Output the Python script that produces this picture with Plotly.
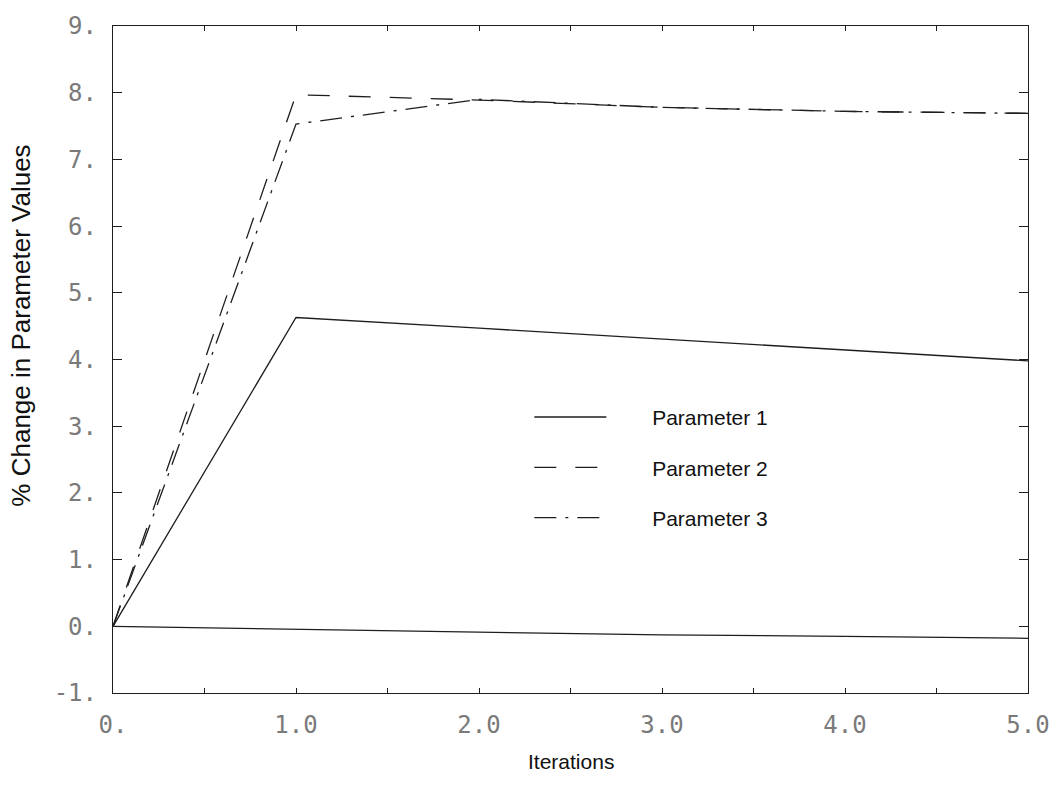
import plotly.graph_objects as go

# Iteration number on the x axis
iterations = [0, 1, 2, 3, 4, 5]

# Percent change of each parameter per iteration
param_1 = [0.0, 4.63, 4.47, 4.31, 4.15, 3.98]
param_2 = [0.0, 7.97, 7.89, 7.78, 7.72, 7.69]
param_3 = [0.0, 7.53, 7.90, 7.78, 7.72, 7.69]
param_4 = [0.0, -0.04, -0.09, -0.13, -0.15, -0.18]

series_names = ["Parameter 1", "Parameter 2", "Parameter 3"]

# Axis ticks and their labels
x_tick_vals = [0, 0.5, 1, 1.5, 2, 2.5, 3, 3.5, 4, 4.5, 5]
x_tick_text = ["0.", "", "1.0", "", "2.0", "", "3.0", "", "4.0", "", "5.0"]
y_tick_vals = [-1, 0, 1, 2, 3, 4, 5, 6, 7, 8, 9]
y_tick_text = ["-1.", "0.", "1.", "2.", "3.", "4.", "5.", "6.", "7.", "8.", "9."]

INK = "#1e1e1e"
LW = 1.3
# non-breaking spaces push the legend labels away from their line samples
PAD = "\u00a0" * 7

fig = go.Figure()
fig.add_trace(go.Scatter(
    x=iterations, y=param_1, mode="lines", name=PAD + series_names[0],
    legendgroup="p1", line=dict(color=INK, width=LW, dash="solid"),
))
fig.add_trace(go.Scatter(
    x=iterations, y=param_2, mode="lines", name=PAD + series_names[1],
    legendgroup="p2", line=dict(color=INK, width=LW, dash="22px,19px"),
))
fig.add_trace(go.Scatter(
    x=iterations, y=param_3, mode="lines", name=PAD + series_names[2],
    legendgroup="p3", line=dict(color=INK, width=LW, dash="22px,9px,3px,9px"),
))
fig.add_trace(go.Scatter(
    x=iterations, y=param_4, mode="lines", showlegend=False,
    line=dict(color=INK, width=LW, dash="solid"),
))

tick_font = dict(family="DejaVu Sans Mono", size=24, color="#7a7a7a")
legend_font = dict(family="Liberation Sans", size=21, color="#111111")

fig.update_layout(
    width=1064, height=786,
    margin=dict(l=113, r=36, t=20, b=93),
    paper_bgcolor="white", plot_bgcolor="white",
    showlegend=True,
    legend=dict(
        x=0.455, y=0.444, xanchor="left", yanchor="top",
        font=legend_font, bgcolor="rgba(0,0,0,0)",
        itemwidth=72, traceorder="grouped", tracegroupgap=20,
    ),
    xaxis=dict(
        range=[0, 5], showgrid=False, zeroline=False,
        showline=True, linecolor=INK, linewidth=1.4, mirror="ticks",
        ticks="inside", ticklen=5, tickcolor=INK, tickwidth=1,
        tickvals=x_tick_vals, ticktext=x_tick_text,
        tickfont=tick_font, ticklabelstandoff=10,
    ),
    yaxis=dict(
        range=[-1, 9], showgrid=False, zeroline=False,
        showline=True, linecolor=INK, linewidth=1.4, mirror="ticks",
        ticks="inside", ticklen=9, tickcolor=INK, tickwidth=1,
        tickvals=y_tick_vals, ticktext=y_tick_text,
        tickfont=tick_font, ticklabelstandoff=10,
    ),
    annotations=[
        dict(text="Iterations", xref="paper", yref="paper",
             x=0.5, y=-0.102, xanchor="center", yanchor="middle",
             showarrow=False,
             font=dict(family="Liberation Sans", size=21, color="#111111")),
        dict(text="% Change in Parameter Values", xref="paper", yref="paper",
             x=-0.1, y=0.55, xanchor="center", yanchor="middle",
             textangle=-90, showarrow=False,
             font=dict(family="Liberation Sans", size=26, color="#111111")),
    ],
)

fig.write_html("out.html")
